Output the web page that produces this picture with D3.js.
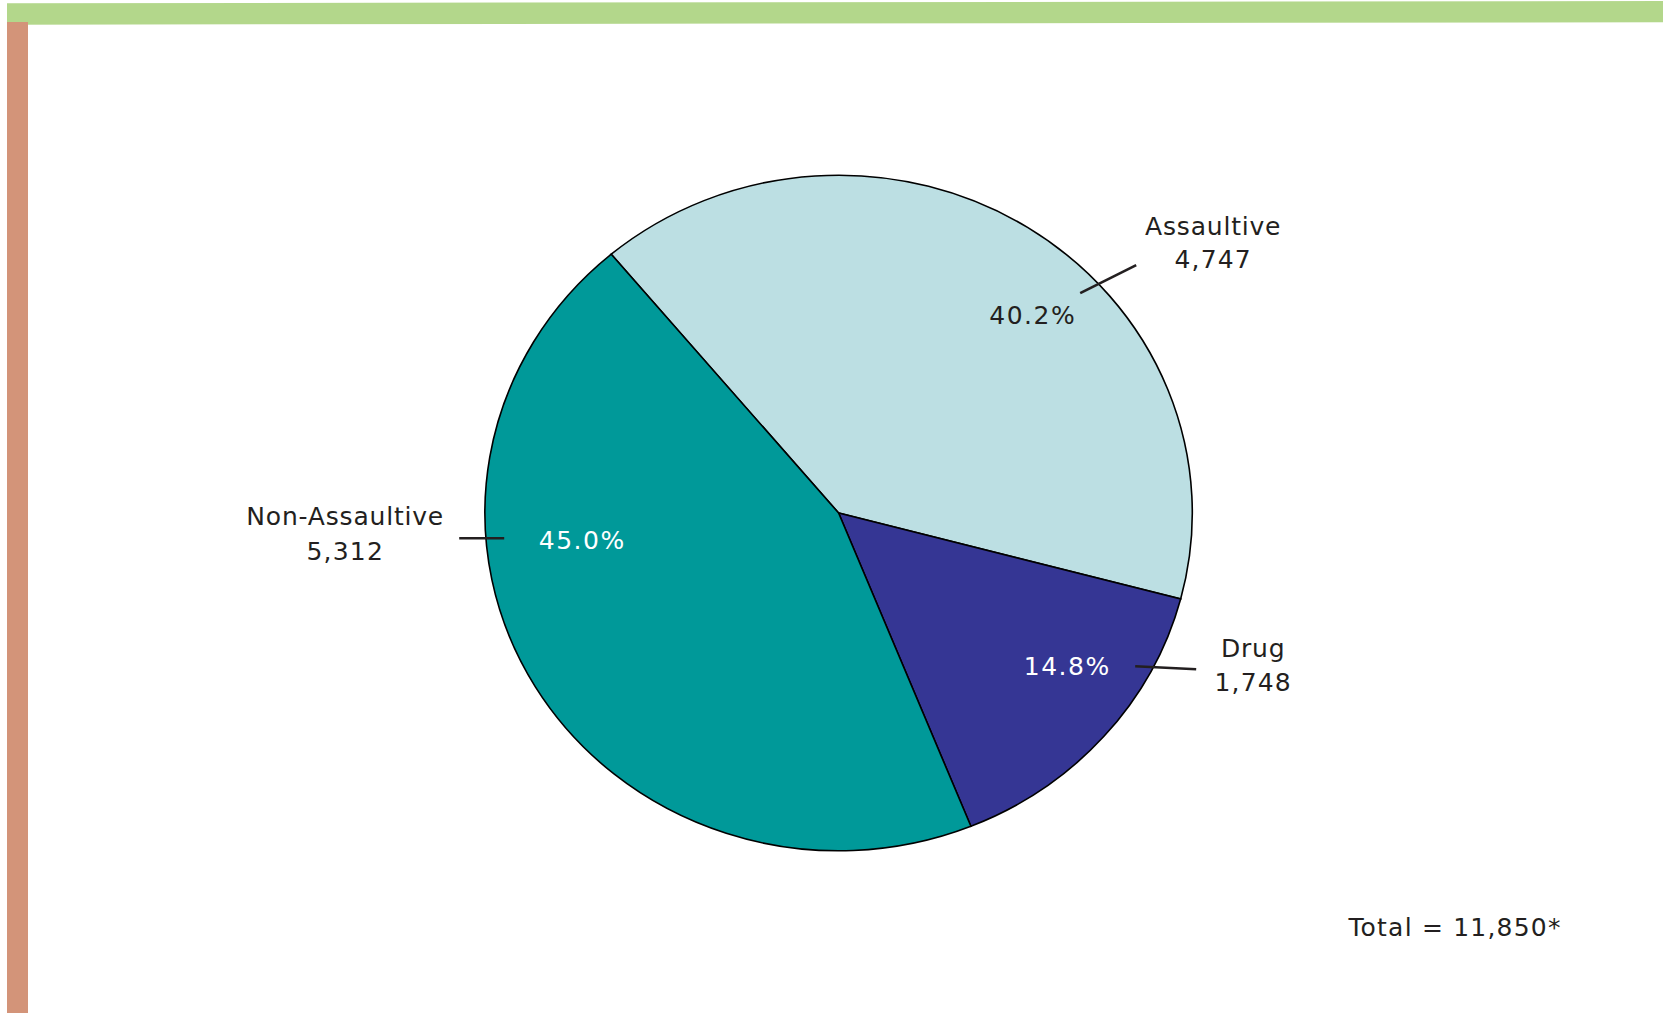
<!DOCTYPE html>
<html>
<head>
<meta charset="utf-8">
<script src="https://cdn.jsdelivr.net/npm/d3@7"></script>
<style>
  html, body { margin: 0; padding: 0; background: #fff; }
  svg { display: block; }
  text { font-family: "DejaVu Sans", sans-serif; fill: #231f20; }
</style>
</head>
<body>
<svg id="chart" width="1663" height="1013"></svg>
<script>
// ---- data ----
const categories = ["Assaultive", "Drug", "Non-Assaultive"];
const values = [4747, 1748, 5312];
const percentLabels = ["40.2%", "14.8%", "45.0%"];
const valueLabels = ["4,747", "1,748", "5,312"];
const totalLabel = "Total = 11,850*";

// ---- styling ----
const colors = { "Assaultive": "#bcdfe3", "Drug": "#353694", "Non-Assaultive": "#009999" };
const pctColors = { "Assaultive": "#231f20", "Drug": "#ffffff", "Non-Assaultive": "#ffffff" };

const W = 1663, H = 1013;
const cx = 838.6, cy = 513.0;
const R = 353.7, Ry = 337.8;
const ky = Ry / R;

// label layout (offsets relative to pie centre)
const layout = {
  "Assaultive":     { name: [374.6, -277.8], val: [374.6, -244.8], pct: [194.1, -188.8], lead: [[241.6, -219.8], [297.6, -247.8]] },
  "Drug":           { name: [414.6, 144.2],  val: [414.6, 178.2],  pct: [228.6, 162.2],  lead: [[296.6, 153.2], [357.6, 156.2]] },
  "Non-Assaultive": { name: [-493.4, 12.2],  val: [-493.4, 47.2],  pct: [-256.4, 36.2],  lead: [[-379.4, 25.2], [-334.4, 25.2]] }
};

const svg = d3.select("#chart");

// decorative frame bars
svg.append("polygon")
  .attr("points", `7,3.3 ${W},1 ${W},22.3 7,24.7`)
  .attr("fill", "#b3d78b");
svg.append("rect")
  .attr("x", 7).attr("y", 22).attr("width", 21).attr("height", H - 22)
  .attr("fill", "#d39479");

const data = categories.map((c, i) => ({ cat: c, value: values[i], pct: percentLabels[i], vlab: valueLabels[i] }));

const start = -40 * Math.PI / 180;
const pie = d3.pie().sort(null).value(d => d.value)
  .startAngle(start).endAngle(start + 2 * Math.PI);
const arc = d3.arc().innerRadius(0).outerRadius(R);

const g = svg.append("g").attr("transform", `translate(${cx},${cy}) scale(1,${ky})`);
g.selectAll("path.slice")
  .data(pie(data))
  .join("path")
  .attr("class", "slice")
  .attr("d", arc)
  .attr("fill", d => colors[d.data.cat])
  .attr("stroke", "#000")
  .attr("stroke-width", 1.6)
  .attr("vector-effect", "non-scaling-stroke")
  .attr("stroke-linejoin", "miter");

const lg = svg.append("g").attr("transform", `translate(${cx},${cy})`);
const fs = 25;

data.forEach(d => {
  const L = layout[d.cat];
  lg.append("line")
    .attr("x1", L.lead[0][0]).attr("y1", L.lead[0][1])
    .attr("x2", L.lead[1][0]).attr("y2", L.lead[1][1])
    .attr("stroke", "#231f20").attr("stroke-width", 2.6);
  lg.append("text")
    .attr("x", L.name[0]).attr("y", L.name[1])
    .attr("text-anchor", "middle")
    .style("font-size", fs + "px").style("letter-spacing", "0.8px")
    .text(d.cat);
  lg.append("text")
    .attr("x", L.val[0]).attr("y", L.val[1])
    .attr("text-anchor", "middle")
    .style("font-size", fs + "px").style("letter-spacing", "1.2px")
    .text(d.vlab);
  lg.append("text")
    .attr("x", L.pct[0]).attr("y", L.pct[1])
    .attr("text-anchor", "middle")
    .style("font-size", fs + "px").style("letter-spacing", "1.5px")
    .style("fill", pctColors[d.cat])
    .text(d.pct);
});

svg.append("text")
  .attr("x", 1455).attr("y", 936)
  .attr("text-anchor", "middle")
  .style("font-size", fs + "px").style("letter-spacing", "1.2px")
  .text(totalLabel);
</script>
</body>
</html>
